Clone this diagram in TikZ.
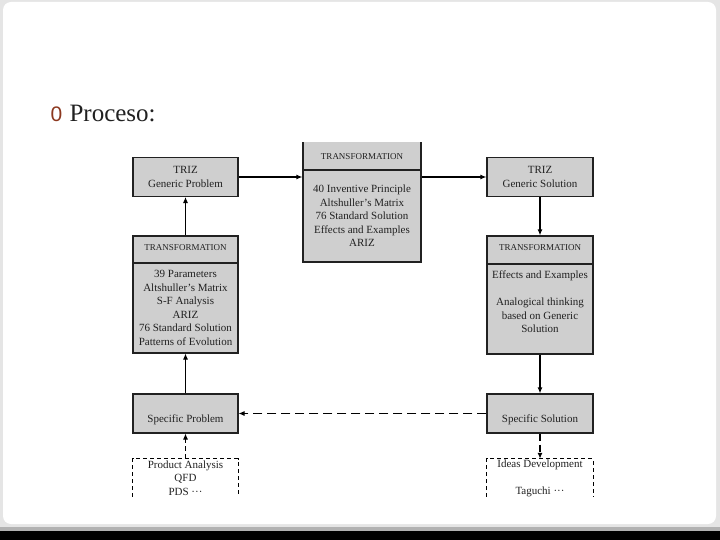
\documentclass[tikz,border=0pt]{standalone}
\usepackage{fontspec}
\setmainfont{Liberation Serif}
\newfontfamily\bulletfont{Liberation Sans}
\usetikzlibrary{arrows.meta,positioning}
\definecolor{boxgray}{rgb}{0.81,0.81,0.81}
\definecolor{bulletbrown}{rgb}{0.55,0.22,0.12}
\definecolor{inkgray}{rgb}{0.13,0.13,0.13}

\begin{document}
\begin{tikzpicture}[x=1pt,y=-1pt,
  stage/.style={draw=inkgray,line width=1.1pt,fill=boxgray,inner sep=0pt},
  words/.style={align=center,inner sep=0pt,text=inkgray,font=\fontsize{11}{13.5}\selectfont},
  head/.style={inner sep=0pt,text=inkgray,font=\fontsize{9}{10}\selectfont},
  idea/.style={inner sep=0pt,minimum width=105pt,minimum height=38pt},
  frame/.style={draw=black,line width=0.9pt,dash pattern=on 4pt off 3pt},
  flow/.style={draw=black,line width=2pt,-{Latex[length=6pt,width=5pt]}},
  thin flow/.style={draw=black,line width=0.9pt,-{Latex[length=6pt,width=5pt]}},
  back/.style={thin flow,dash pattern=on 9pt off 5pt}]
  \useasboundingbox (0,0) rectangle (720,540);

  % slide
  \fill[black] (0,0) rectangle (720,540);
  \fill[gray!60] (0,0) rectangle (720,531);
  \fill[gray!20] (0,0) rectangle (720,527);
  \fill[white,rounded corners=8pt] (3,2) rectangle (716,524);

  \node[anchor=base west,text=bulletbrown,font=\bulletfont\fontsize{21}{21}\selectfont]
    (bullet) at (47,122) {0};
  \node[anchor=base west,text=inkgray,font=\fontsize{25}{25}\selectfont]
    (title) at (66,122) {Proceso:};

  \begin{scope}
    \clip (125,143) rectangle (600,496.5);

    % upper row
    \node[stage,words,minimum width=105pt,minimum height=39pt] (gp) at (185.5,177)
      {TRIZ\\Generic Problem};
    \node[stage,minimum width=118pt,minimum height=124pt] (mt) at (362,200) {};
    \node[stage,words,minimum width=106pt,minimum height=39pt] (gs) at (540,177)
      {TRIZ\\Generic Solution};

    % transformation columns
    \node[stage,minimum width=105pt,minimum height=117pt] (lt) at (185.5,294.5) {};
    \node[stage,minimum width=106pt,minimum height=118pt] (rt) at (540,295) {};
    \foreach \b/\y in {mt/170,lt/263,rt/264}
      \draw[draw=inkgray,line width=1.1pt] (\b.west |- 0,\y) -- (\b.east |- 0,\y);

    \node[head] (mthead) at (362,157) {TRANSFORMATION};
    \node[head] (lthead) at (185.5,247.5) {TRANSFORMATION};
    \node[head] (rthead) at (540,248) {TRANSFORMATION};

    \node[words] (mtbody) at (362,216)
      {40 Inventive Principle\\Altshuller's Matrix\\76 Standard Solution\\Effects and Examples\\ARIZ};
    \node[words] (ltbody) at (185.5,308)
      {39 Parameters\\Altshuller's Matrix\\S-F Analysis\\ARIZ\\76 Standard Solution\\Patterns of Evolution};
    \node[words] (rtbody) at (540,302)
      {Effects and Examples\\[13.5pt]Analogical thinking\\based on Generic\\Solution};

    % specific row
    \node[stage,minimum width=105pt,minimum height=39pt] (sp) at (185.5,413.5) {};
    \node[stage,minimum width=106pt,minimum height=39pt] (ss) at (540,413.5) {};
    \node[words] (sptext) at (185.5,420) {Specific Problem};
    \node[words] (sstext) at (540,420) {Specific Solution};

    % open dashed boxes
    \node[idea,words] (pa) at (185.5,478) {Product Analysis\\QFD\\PDS ···};
    \node[idea,words,minimum width=106pt] (id) at (540,478) {Ideas Development\\[13.5pt]Taguchi ···};
    \foreach \n in {pa,id}
      \draw[frame] (\n.south west) -- (\n.north west) -- (\n.north east) -- (\n.south east);

    % connectors
    \draw[flow] (gp.east) -- (gp.east -| mt.west);
    \draw[flow] (gs.west -| mt.east) -- (gs.west);
    \draw[flow] (gs.south) -- (rt.north);
    \draw[flow] (rt.south) -- (ss.north);
    \draw[thin flow] (lt.north) -- (gp.south);
    \draw[thin flow] (sp.north) -- (lt.south);
    \draw[back] (ss.west) -- (sp.east);
    \draw[flow,dash pattern=on 7pt off 4pt] (ss.south) -- (id.north);
    \draw[thin flow,dash pattern=on 5pt off 3pt] (pa.north) -- (sp.south);
  \end{scope}
\end{tikzpicture}
\end{document}
